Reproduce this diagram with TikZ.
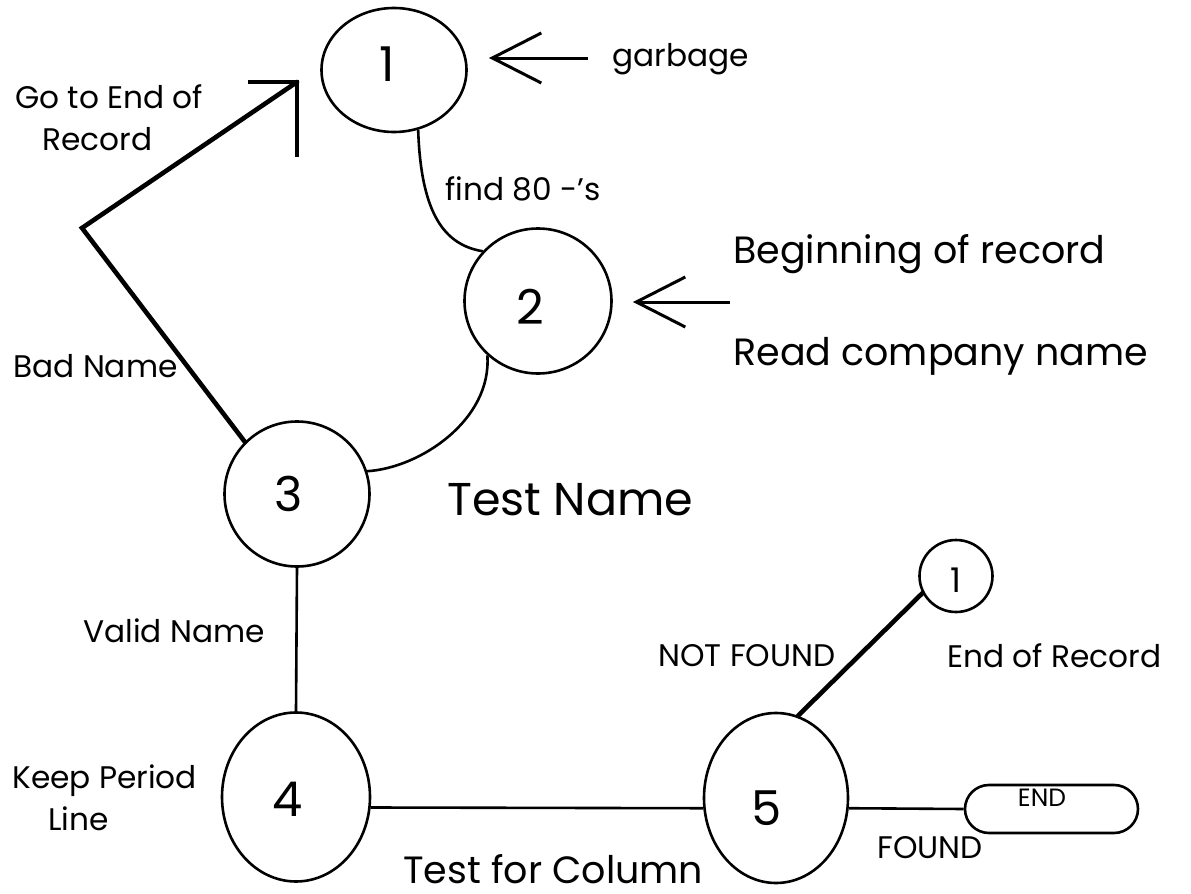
\documentclass[tikz,border=0pt]{standalone}
\usepackage{fontspec}
\setmainfont{Poppins}
\usetikzlibrary{arrows.meta,shapes.geometric}

\tikzset{
  state/.style={draw, ellipse, line width=1.3pt, inner sep=0pt},
  digit/.style={font=\fontsize{24}{26}\selectfont, inner sep=0pt},
  lbl/.style={font=\fontsize{15.6}{17}\selectfont, inner sep=0pt, anchor=base west},
  biglbl/.style={font=\fontsize{19}{21}\selectfont, inner sep=0pt, anchor=base west},
  endbox/.style={draw, rectangle, rounded corners=12pt, line width=1.3pt,
                 minimum width=86.5pt, minimum height=24pt, inner sep=0pt},
  edge/.style={line width=1.3pt},
  heavy/.style={line width=2.3pt, line cap=round, line join=miter},
  barb/.style={line width=1.5pt, -{Straight Barb[length=24.5pt, width=25pt]}},
  headline/.style={line width=1.6pt}
}

\begin{document}
\begin{tikzpicture}[x=0.5pt, y=-0.5pt]
  \useasboundingbox (0,0) rectangle (1191,894);
  \fill[white] (0,0) rectangle (1191,894);

  % states
  \node[state, minimum width=72.5pt, minimum height=62pt,
        label={[digit, xshift=-3.5pt, yshift=3pt]center:1}] (s1) at (394,70) {};
  \node[state, minimum width=73.5pt, minimum height=72.5pt,
        label={[digit, xshift=-4pt, yshift=-3pt]center:2}] (s2) at (538,301) {};
  \node[state, minimum width=72.5pt, minimum height=72.5pt,
        label={[digit, xshift=-4pt]center:3}] (s3) at (297,494) {};
  \node[state, minimum width=74pt, minimum height=84.5pt,
        label={[digit, xshift=-4pt, yshift=-1pt]center:4}] (s4) at (296,797) {};
  \node[state, minimum width=72pt, minimum height=85pt,
        label={[digit, xshift=-4.5pt, yshift=-5pt]center:5}] (s5) at (776,798) {};
  \node[state, minimum width=36.5pt, minimum height=36pt,
        label={[font=\fontsize{17}{19}\selectfont, inner sep=0pt, yshift=-2pt]center:1}] (r1) at (956,576) {};
  \node[endbox] (fin) at (1051.5,809) {};
  \node[font=\fontsize{12.5}{14}\selectfont, inner sep=0pt, anchor=base] (fintxt) at (1042,806) {END};

  % labels
  \node[lbl] (garb) at (612,67) {garbage};
  \node[lbl, anchor=base] (goA) at (109,108) {Go to End of};
  \node[lbl, anchor=base] (goB) at (97.5,150) {Record};
  \node[lbl] (find) at (445,200) {find 80 -'s};
  \node[biglbl] (begin) at (733,263) {Beginning of record};
  \node[biglbl] (read) at (733,365) {Read company name};
  \node[lbl] (bad) at (13,377) {Bad Name};
  \node[biglbl, font=\fontsize{23}{25}\selectfont] (tname) at (447,515) {Test Name};
  \node[lbl] (valid) at (83,642) {Valid Name};
  \node[lbl] (keepA) at (12,788) {Keep Period};
  \node[lbl] (keepB) at (48,830) {Line};
  \node[biglbl] (tcol) at (403,883) {Test for Column};
  \node[lbl] (nf) at (658,666) {NOT FOUND};
  \node[lbl] (eor) at (947,667) {End of Record};
  \node[lbl] (found) at (877,858) {FOUND};

  % entry arrows
  \coordinate (gtail) at (588,58);
  \coordinate (gtip) at (489,58);
  \draw[barb] (gtail) -- (gtip);
  \coordinate (btail) at (730,302);
  \coordinate (btip) at (633,302);
  \draw[barb] (btail) -- (btip);

  % transitions
  \draw[edge] (s1.-68) .. controls (421,215) and (445,245) .. (s2.138);
  \draw[edge] (s3.18) .. controls (420,468) and (492,420) .. (s2.-133);
  \draw[edge] (s3.south) -- (s4.north);
  \draw[edge] (s4.-8) -- (s5.188);
  \draw[edge] (s5.-8) -- (fin.west);
  \draw[heavy] (s5.75) -- (r1.207);

  % bad name: back to state 1
  \coordinate (bend) at (82,228);
  \coordinate (htip) at (297,82);
  \coordinate (hleft) at (248,82);
  \coordinate (hdown) at (297,157);
  \draw[heavy] (s3.135) -- (bend) -- (htip);
  \draw[headline] (hleft) -- (htip) -- (hdown);
\end{tikzpicture}
\end{document}
